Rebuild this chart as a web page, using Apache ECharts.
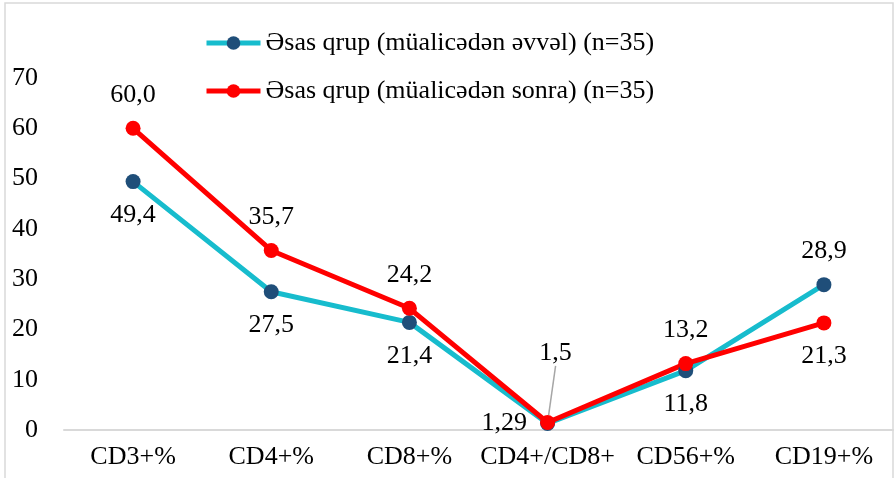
<!DOCTYPE html>
<html>
<head>
<meta charset="utf-8">
<script src="https://cdn.jsdelivr.net/npm/echarts@6/dist/echarts.min.js"></script>
<style>
    html, body { margin: 0; padding: 0; background: #fff; }
    #chart { width: 896px; height: 478px; }
</style>
</head>
<body>
<div id="chart"></div>
<script>
const categories = ['CD3+%', 'CD4+%', 'CD8+%', 'CD4+/CD8+', 'CD56+%', 'CD19+%'];
const beforeValues = [49.4, 27.5, 21.4, 1.29, 11.8, 28.9];
const afterValues = [60.0, 35.7, 24.2, 1.5, 13.2, 21.3];
const beforeName = 'Əsas qrup (müalicədən əvvəl) (n=35)';
const afterName = 'Əsas qrup (müalicədən sonra) (n=35)';

// label side per point
const beforePos = ['bottom', 'bottom', 'bottom', 'left', 'bottom', 'top'];
const afterPos = ['top', 'top', 'top', 'top', 'top', 'bottom'];

const fmt = v => (Number.isInteger(v) ? v.toFixed(1) : String(v)).replace('.', ',');

const makeData = (values, pos, guideAt) => values.map((v, i) => ({
    value: v,
    label: { position: pos[i] },
    labelLine: { show: i === guideAt }
}));

const chart = echarts.init(document.getElementById('chart'));

chart.setOption({
    animation: false,
    graphic: [{
        type: 'rect',
        shape: { x: 5, y: 3, width: 888, height: 490 },
        style: { fill: 'none', stroke: '#d9d9d9', lineWidth: 1.5 },
        silent: true
    }],
    legend: {
        orient: 'vertical',
        left: 199,
        top: 23,
        itemWidth: 54,
        itemHeight: 17,
        itemGap: 18,
        lineStyle: { width: 5 },
        textStyle: { fontFamily: 'Times New Roman', fontSize: 26, color: '#000', lineHeight: 30 },
        data: [beforeName, afterName]
    },
    grid: { left: 64, right: 3, top: 78, bottom: 48 },
    xAxis: {
        type: 'category',
        data: categories,
        axisLine: { lineStyle: { color: '#d9d9d9', width: 2 } },
        axisTick: { show: false },
        axisLabel: { fontFamily: 'Times New Roman', fontSize: 26, color: '#000', margin: 14, interval: 0 }
    },
    yAxis: {
        type: 'value',
        min: 0,
        max: 70,
        interval: 10,
        splitLine: { show: false },
        axisLine: { show: false },
        axisLabel: { fontFamily: 'Times New Roman', fontSize: 26, color: '#000', margin: 26 }
    },
    series: [
        {
            name: beforeName,
            type: 'line',
            data: makeData(beforeValues, beforePos, -1),
            symbol: 'circle',
            symbolSize: 15,
            lineStyle: { color: '#17bccd', width: 5 },
            itemStyle: { color: '#1f4e79' },
            label: {
                show: true,
                distance: 13,
                fontFamily: 'Times New Roman',
                fontSize: 26,
                color: '#000',
                formatter: p => fmt(p.value)
            }
        },
        {
            name: afterName,
            type: 'line',
            data: makeData(afterValues, afterPos, 3),
            symbol: 'circle',
            symbolSize: 15,
            lineStyle: { color: '#ff0000', width: 5 },
            itemStyle: { color: '#ff0000' },
            label: {
                show: true,
                distance: 13,
                fontFamily: 'Times New Roman',
                fontSize: 26,
                color: '#000',
                formatter: p => fmt(p.value)
            },
            labelLine: { lineStyle: { color: '#a6a6a6', width: 1.5 } },
            labelLayout: p => (p.dataIndex === 3 ? { dx: 8, dy: -36 } : {})
        }
    ]
});
</script>
</body>
</html>
